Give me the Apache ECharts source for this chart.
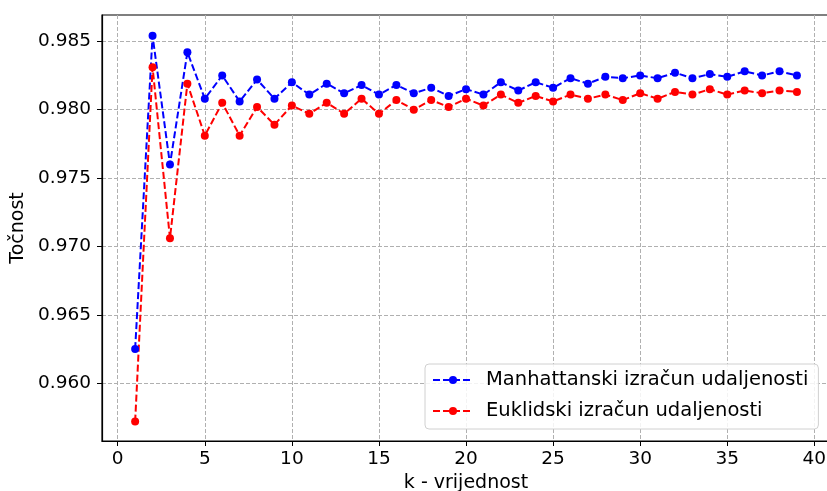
<!DOCTYPE html>
<html>
<head>
<meta charset="utf-8">
<script src="https://cdn.jsdelivr.net/npm/echarts@6/dist/echarts.min.js"></script>
<style>
  html, body { margin: 0; padding: 0; background: #fff; }
  #chart { width: 827px; height: 491px; }
</style>
</head>
<body>
<div id="chart"></div>
<script>
const kValues = [1, 2, 3, 4, 5, 6, 7, 8, 9, 10, 11, 12, 13, 14, 15, 16, 17, 18, 19, 20,
  21, 22, 23, 24, 25, 26, 27, 28, 29, 30, 31, 32, 33, 34, 35, 36, 37, 38, 39];

const manhattan = [0.9625, 0.9854, 0.9760, 0.9842, 0.9808, 0.9825, 0.9806, 0.9822, 0.9808, 0.9820,
  0.9811, 0.9819, 0.9812, 0.9818, 0.9811, 0.9818, 0.9812, 0.9816, 0.9810, 0.9815,
  0.9811, 0.9820, 0.9814, 0.9820, 0.9816, 0.9823, 0.9819, 0.9824, 0.9823, 0.9825,
  0.9823, 0.9827, 0.9823, 0.9826, 0.9824, 0.9828, 0.9825, 0.9828, 0.9825];

const euclid = [0.9572, 0.9831, 0.9706, 0.9819, 0.9781, 0.9805, 0.9781, 0.9802, 0.9789, 0.9803,
  0.9797, 0.9805, 0.9797, 0.9808, 0.9797, 0.9807, 0.9800, 0.9807, 0.9802, 0.9808,
  0.9803, 0.9811, 0.9805, 0.9810, 0.9806, 0.9811, 0.9808, 0.9811, 0.9807, 0.9812,
  0.9808, 0.9813, 0.9811, 0.9815, 0.9811, 0.9814, 0.9812, 0.9814, 0.9813];

const xTicks = [0, 5, 10, 15, 20, 25, 30, 35, 40];
const yTicks = [0.960, 0.965, 0.970, 0.975, 0.980, 0.985];

const seriesNames = ["Manhattanski izračun udaljenosti", "Euklidski izračun udaljenosti"];

const chart = echarts.init(document.getElementById("chart"));
const font = "DejaVu Sans";

const makeSeries = (name, values, color) => ({
  name: name,
  type: "line",
  data: kValues.map((k, i) => [k, values[i]]),
  symbol: "circle",
  symbolSize: 8,
  itemStyle: { color: color },
  lineStyle: { color: color, width: 2, type: [7, 3] },
  emphasis: { disabled: true },
  animation: false,
});

const option = {
  animation: false,
  textStyle: { fontFamily: font },
  grid: {
    left: 102, top: 15, right: -3, bottom: 50,
    outerBoundsMode: "none",
    show: true,
    borderColor: "#000",
    borderWidth: 1.2,
    backgroundColor: "transparent",
  },
  xAxis: {
    type: "value",
    min: -0.903,
    max: 40.9,
    name: "k - vrijednost",
    nameLocation: "middle",
    nameGap: 33,
    nameTextStyle: { fontSize: 19, color: "#000", fontFamily: font },
    axisLine: { onZero: false, lineStyle: { color: "#000", width: 1.2 } },
    axisTick: { show: true, length: 5, customValues: xTicks, lineStyle: { color: "#000" } },
    axisLabel: { customValues: xTicks, fontSize: 18.5, color: "#000", margin: 9, fontFamily: font },
    splitLine: { show: true, lineStyle: { color: "#b0b0b0", type: [4, 2], width: 1 } },
  },
  yAxis: {
    type: "value",
    min: 0.95578,
    max: 0.98692,
    name: "Točnost",
    nameLocation: "middle",
    nameGap: 73,
    nameTextStyle: { fontSize: 19, color: "#000", fontFamily: font },
    axisLine: { show: true, onZero: false, lineStyle: { color: "#000", width: 1.2 } },
    axisTick: { show: true, length: 5, customValues: yTicks, lineStyle: { color: "#000" } },
    axisLabel: {
      customValues: yTicks,
      fontSize: 18.5,
      color: "#000",
      margin: 11,
      fontFamily: font,
      formatter: (v) => v.toFixed(3),
    },
    splitLine: { show: true, lineStyle: { color: "#b0b0b0", type: [4, 2], width: 1 } },
  },
  legend: {
    orient: "vertical",
    left: 425,
    top: 364,
    padding: [6, 10, 8, 7],
    itemGap: 11,
    itemWidth: 40,
    itemHeight: 10,
    backgroundColor: "rgba(255,255,255,0.85)",
    borderColor: "#d0d0d0",
    borderWidth: 1,
    borderRadius: 4,
    textStyle: { fontSize: 19.5, color: "#000", fontFamily: font, padding: [0, 0, 0, 8] },
    data: seriesNames,
  },
  series: [
    makeSeries(seriesNames[0], manhattan, "#0000ff"),
    makeSeries(seriesNames[1], euclid, "#ff0000"),
  ],
};

chart.setOption(option);
</script>
</body>
</html>
